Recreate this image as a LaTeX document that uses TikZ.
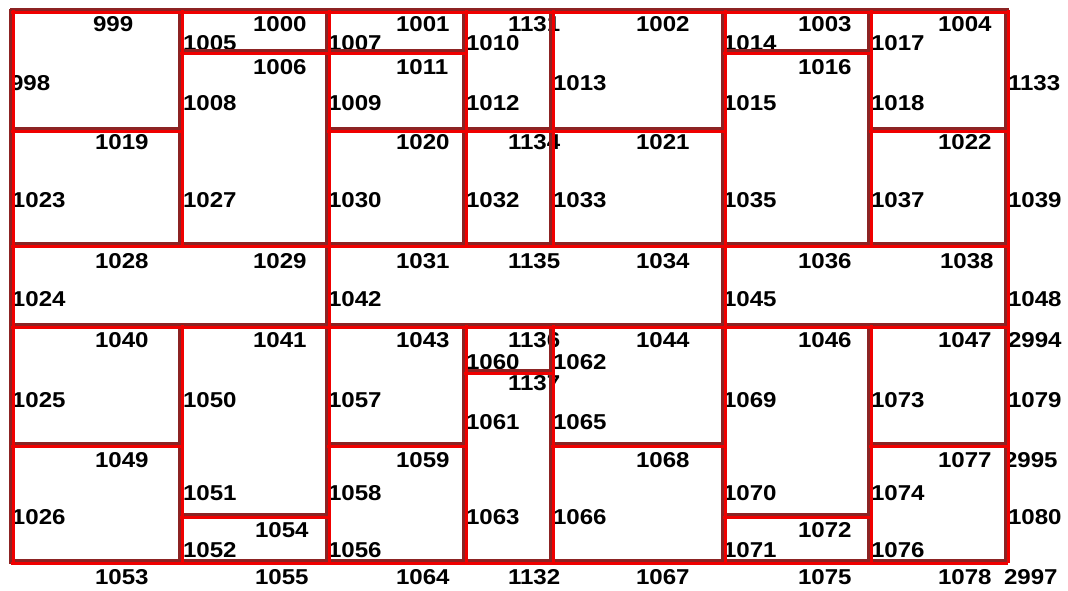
\documentclass[tikz,border=0pt]{standalone}
\usepackage{fontspec}
\newfontfamily\labfont[FakeStretch=1.12]{Liberation Sans Bold}
\definecolor{walldark}{RGB}{140,35,35}
\definecolor{wallred}{RGB}{240,0,0}
\begin{document}
\begin{tikzpicture}[x=1pt,y=-1pt,
  lab/.style={anchor=west,inner sep=0pt,outer sep=0pt,text=black,font=\labfont\fontsize{21.5}{21.5}\selectfont},
  walla/.style={draw=walldark,line width=3.2pt,line cap=rect},
  wallb/.style={draw=wallred,line width=2.6pt,line cap=rect}]
\useasboundingbox (0,0) rectangle (1068,590);
\fill[white] (0,0) rectangle (1068,590);
% labels (drawn first: the walls cover them)
\foreach \t/\x/\y in {
 999/93/24, 1000/253/24, 1001/396/24, 1131/508/24, 1002/636/24, 1003/798/24, 1004/938/24,
 1005/183/43, 1007/328/43, 1010/466/43, 1014/723/43, 1017/871/43,
 1006/253/67, 1011/396/67, 1016/798/67,
 998/10/83, 1013/553/83, 1133/1008/83,
 1008/183/103, 1009/328/103, 1012/466/103, 1015/723/103, 1018/871/103,
 1019/95/142, 1020/396/142, 1134/508/142, 1021/636/142, 1022/938/142,
 1023/12/200, 1027/183/200, 1030/328/200, 1032/466/200, 1033/553/200, 1035/723/200, 1037/871/200, 1039/1008/200,
 1028/95/261, 1029/253/261, 1031/396/261, 1135/508/261, 1034/636/261, 1036/798/261, 1038/940/261,
 1024/12/299, 1042/328/299, 1045/723/299, 1048/1008/299,
 1040/95/340, 1041/253/340, 1043/396/340, 1136/508/340, 1044/636/340, 1046/798/340, 1047/938/340, 2994/1008/340,
 1060/466/362, 1062/553/362,
 1137/508/383,
 1025/12/400, 1050/183/400, 1057/328/400, 1069/723/400, 1073/871/400, 1079/1008/400,
 1061/466/422, 1065/553/422,
 1049/95/460, 1059/396/460, 1068/636/460, 1077/938/460, 2995/1004/460,
 1051/183/493, 1058/328/493, 1070/723/493, 1074/871/493,
 1026/12/517, 1063/466/517, 1066/553/517, 1080/1008/517,
 1054/255/530, 1072/798/530,
 1052/183/550, 1056/328/550, 1071/723/550, 1076/871/550,
 1053/95/577, 1055/255/577, 1064/396/577, 1132/508/577, 1067/636/577, 1075/798/577, 1078/938/577, 2997/1004/577}
 {\node[lab] (l\t) at (\x,\y) {\t};}
% walls
\foreach \s/\o in {walla/-1.2, wallb/1.6}{
 % vertical walls
 \foreach \x/\ya/\yb in {12/11/562, 181/11/245, 181/326/562, 328/11/562, 465/11/245, 465/326/562,
   552/11/245, 552/326/562, 724/11/562, 870/11/245, 870/326/562, 1007/11/562}
   {\draw[\s] (\x+\o,\ya) -- (\x+\o,\yb);}
 % horizontal walls
 \foreach \y/\xa/\xb in {11/12/1007, 52/181/465, 52/724/870, 130/12/181, 130/328/724, 130/870/1007,
   245/12/1007, 326/12/1007, 372/465/552, 445/12/181, 445/328/465, 445/552/724, 445/870/1007,
   516/181/328, 516/724/870, 562/12/1007}
   {\draw[\s] (\xa,\y+\o) -- (\xb,\y+\o);}
}
\end{tikzpicture}
\end{document}
